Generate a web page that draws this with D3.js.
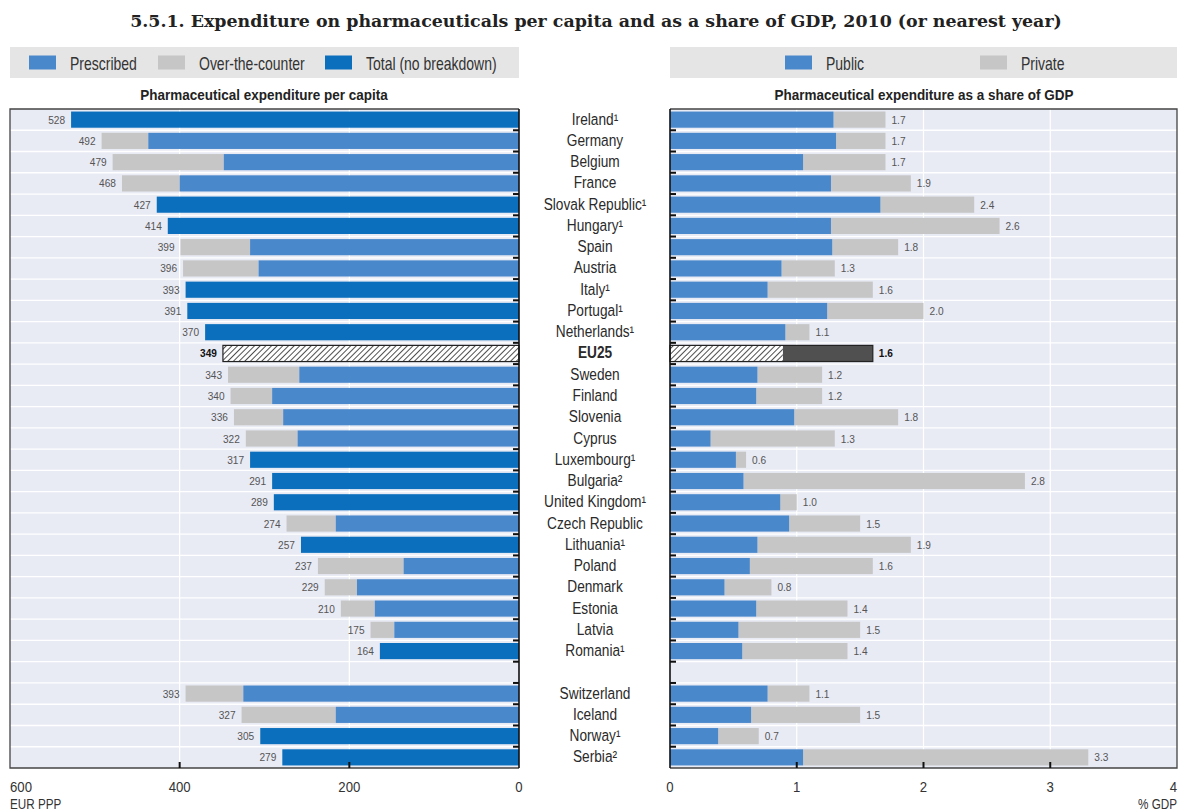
<!DOCTYPE html>
<html>
<head>
<meta charset="utf-8">
<script src="https://cdn.jsdelivr.net/npm/d3@7"></script>
<style>
  body { margin:0; background:#fff; }
  text { font-family: "Liberation Sans", Arial, sans-serif; }
</style>
</head>
<body>
<div id="chart"></div>
<script>
// rows, top to bottom ("" = empty spacer row)
const countries = ["Ireland¹","Germany","Belgium","France","Slovak Republic¹","Hungary¹","Spain","Austria","Italy¹","Portugal¹","Netherlands¹","EU25",
  "Sweden","Finland","Slovenia","Cyprus","Luxembourg¹","Bulgaria²","United Kingdom¹","Czech Republic","Lithuania¹","Poland","Denmark","Estonia","Latvia","Romania¹",
  "","Switzerland","Iceland","Norway¹","Serbia²"];
// per capita, EUR PPP (total), and prescribed part (null = no breakdown)
const perCapita = [528,492,479,468,427,414,399,396,393,391,370,349,343,340,336,322,317,291,289,274,257,237,229,210,175,164,null,393,327,305,279];
const prescribed = [null,437,348,400,null,null,317,307,null,null,null,null,259,291,278,261,null,null,null,216,null,136,191,170,147,null,null,325,216,null,null];
// share of GDP, total and public part
const gdpTotal = [1.7,1.7,1.7,1.9,2.4,2.6,1.8,1.3,1.6,2.0,1.1,1.6,1.2,1.2,1.8,1.3,0.6,2.8,1.0,1.5,1.9,1.6,0.8,1.4,1.5,1.4,null,1.1,1.5,0.7,3.3];
const gdpPublic = [1.29,1.31,1.05,1.27,1.66,1.27,1.28,0.88,0.77,1.24,0.91,0.89,0.69,0.68,0.98,0.32,0.52,0.58,0.87,0.94,0.69,0.63,0.43,0.68,0.54,0.57,null,0.77,0.64,0.38,1.05];
const leftTicks = [600,400,200,0];
const rightTicks = [0,1,2,3,4];

const W=1184, H=812;
const cPres="#4a88cc", cTot="#0b6fbd", cGray="#c6c6c6", cDark="#505050", bg="#e8eaf4";
const euIdx = countries.indexOf("EU25");

const svg = d3.select("#chart").append("svg").attr("width",W).attr("height",H);

// narrow text: scale glyphs horizontally around the anchor point
function txt(g, x, y, s, o){
  o = o || {};
  return g.append("text").attr("transform",`translate(${x},${y}) scale(${o.sx||0.8},1)`)
    .attr("text-anchor",o.anchor||"start").style("font-size",(o.size||14)+"px")
    .style("font-weight",o.weight||"normal").attr("fill",o.fill||"#333").text(s);
}

const defs = svg.append("defs");
const pat = defs.append("pattern").attr("id","hatch").attr("patternUnits","userSpaceOnUse")
  .attr("width",4).attr("height",4).attr("patternTransform","rotate(45)");
pat.append("rect").attr("width",4).attr("height",4).attr("fill","#fff");
pat.append("line").attr("x1",0).attr("y1",0).attr("x2",0).attr("y2",4).attr("stroke","#222").attr("stroke-width",1.6);

// title
svg.append("text").attr("x",596).attr("y",27).attr("text-anchor","middle")
  .style("font-family","'DejaVu Serif', serif").style("font-weight","bold").style("font-size","17.4px")
  .attr("fill","#222").text("5.5.1. Expenditure on pharmaceuticals per capita and as a share of GDP, 2010 (or nearest year)");

const plotTop=109, plotBottom=768;
const y = d3.scaleBand().domain(d3.range(countries.length)).range([plotTop,plotBottom]).paddingInner(0.24).paddingOuter(0.12);
const step = y.step();
const xL = d3.scaleLinear().domain([0,600]).range([519,10]);
const xR = d3.scaleLinear().domain([0,4]).range([670,1177]);

// legends
function legend(x0,x1,items){
  const g = svg.append("g");
  g.append("rect").attr("x",x0).attr("y",47).attr("width",x1-x0).attr("height",31).attr("fill","#e5e5e5");
  items.forEach(it=>{
    g.append("rect").attr("x",it.x).attr("y",55.5).attr("width",27).attr("height",14).attr("fill",it.c);
    txt(g, it.x+41, 70, it.t, {size:17.5, sx:0.8});
  });
}
legend(10,519,[{x:29,c:cPres,t:"Prescribed"},{x:158,c:cGray,t:"Over-the-counter"},{x:325,c:cTot,t:"Total (no breakdown)"}]);
legend(670,1177,[{x:785,c:cPres,t:"Public"},{x:980,c:cGray,t:"Private"}]);

// panel titles
txt(svg, 264, 100, "Pharmaceutical expenditure per capita", {size:14.5, sx:0.93, weight:"bold", anchor:"middle", fill:"#222"});
txt(svg, 924, 100, "Pharmaceutical expenditure as a share of GDP", {size:14.5, sx:0.93, weight:"bold", anchor:"middle", fill:"#222"});

function panelBg(x0,x1,grid,xs){
  const g = svg.append("g");
  g.append("rect").attr("x",Math.min(x0,x1)).attr("y",plotTop).attr("width",Math.abs(x1-x0)).attr("height",plotBottom-plotTop).attr("fill",bg);
  g.selectAll(".hg").data(d3.range(1,countries.length)).join("line")
    .attr("x1",x0).attr("x2",x1).attr("y1",i=>plotTop+i*step).attr("y2",i=>plotTop+i*step)
    .attr("stroke","#fff").attr("stroke-width",1.3);
  g.selectAll(".vg").data(grid).join("line")
    .attr("x1",xs).attr("x2",xs).attr("y1",plotTop).attr("y2",plotBottom).attr("stroke","#fff").attr("stroke-width",1.3);
  return g;
}
panelBg(519,10,[200,400],d=>xL(d));
panelBg(670,1177,[1,2,3],d=>xR(d));

// left bars
const rows = d3.range(countries.length).filter(i=>countries[i]!=="");
const gl = svg.append("g");
rows.forEach(i=>{
  const yy=y(i), h=y.bandwidth(), tot=perCapita[i];
  if(i===euIdx){
    gl.append("rect").attr("x",xL(tot)).attr("y",yy).attr("width",xL(0)-xL(tot)).attr("height",h)
      .attr("fill","url(#hatch)").attr("stroke","#222").attr("stroke-width",1.2);
  } else if(prescribed[i]==null){
    gl.append("rect").attr("x",xL(tot)).attr("y",yy).attr("width",xL(0)-xL(tot)).attr("height",h).attr("fill",cTot);
  } else {
    gl.append("rect").attr("x",xL(tot)).attr("y",yy).attr("width",xL(prescribed[i])-xL(tot)).attr("height",h).attr("fill",cGray);
    gl.append("rect").attr("x",xL(prescribed[i])).attr("y",yy).attr("width",xL(0)-xL(prescribed[i])).attr("height",h).attr("fill",cPres);
  }
  txt(gl, xL(tot)-6, yy+h/2+4, tot, {size:11.5, sx:0.88, anchor:"end",
    weight:i===euIdx?"bold":"normal", fill:i===euIdx?"#111":"#555"});
});

// right bars
const gr = svg.append("g");
rows.forEach(i=>{
  const yy=y(i), h=y.bandwidth(), tot=gdpTotal[i], pub=gdpPublic[i];
  if(i===euIdx){
    gr.append("rect").attr("x",xR(pub)).attr("y",yy).attr("width",xR(tot)-xR(pub)).attr("height",h).attr("fill",cDark);
    gr.append("rect").attr("x",xR(0)).attr("y",yy).attr("width",xR(pub)-xR(0)).attr("height",h).attr("fill","url(#hatch)");
    gr.append("rect").attr("x",xR(0)).attr("y",yy).attr("width",xR(tot)-xR(0)).attr("height",h)
      .attr("fill","none").attr("stroke","#222").attr("stroke-width",1.2);
  } else {
    gr.append("rect").attr("x",xR(pub)).attr("y",yy).attr("width",xR(tot)-xR(pub)).attr("height",h).attr("fill",cGray);
    gr.append("rect").attr("x",xR(0)).attr("y",yy).attr("width",xR(pub)-xR(0)).attr("height",h).attr("fill",cPres);
  }
  txt(gr, xR(tot)+6, yy+h/2+4, d3.format(".1f")(tot), {size:11.5, sx:0.88,
    weight:i===euIdx?"bold":"normal", fill:i===euIdx?"#111":"#555"});
});

// country labels
const gc = svg.append("g");
rows.forEach(i=>{
  txt(gc, 595, y(i)+y.bandwidth()/2+5, countries[i], {size:16.5, sx:0.83, anchor:"middle",
    weight:i===euIdx?"bold":"normal", fill:"#2a2a2a"});
});

// frames and axes
const fr = svg.append("g").attr("fill","none");
fr.append("path").attr("d",`M519,${plotTop}H10V${plotBottom}H519`).attr("stroke","#444").attr("stroke-width",1.3);
fr.append("line").attr("x1",519).attr("x2",519).attr("y1",plotTop).attr("y2",plotBottom).attr("stroke","#111").attr("stroke-width",1.6);
fr.append("path").attr("d",`M670,${plotTop}H1177V${plotBottom}H670`).attr("stroke","#444").attr("stroke-width",1.3);
fr.append("line").attr("x1",670).attr("x2",670).attr("y1",plotTop).attr("y2",plotBottom).attr("stroke","#111").attr("stroke-width",1.6);

// category ticks on zero axes
const bounds = d3.range(1,countries.length).map(i=>plotTop+i*step);
fr.selectAll(".tl").data(bounds).join("line").attr("x1",513).attr("x2",519).attr("y1",d=>d).attr("y2",d=>d).attr("stroke","#111").attr("stroke-width",2);
fr.selectAll(".tr").data(bounds).join("line").attr("x1",670).attr("x2",676).attr("y1",d=>d).attr("y2",d=>d).attr("stroke","#111").attr("stroke-width",2);
// value ticks on bottom
fr.selectAll(".bl").data([200,400]).join("line").attr("x1",d=>xL(d)).attr("x2",d=>xL(d)).attr("y1",plotBottom-6).attr("y2",plotBottom).attr("stroke","#111").attr("stroke-width",2);
fr.selectAll(".br").data([1,2,3]).join("line").attr("x1",d=>xR(d)).attr("x2",d=>xR(d)).attr("y1",plotBottom-6).attr("y2",plotBottom).attr("stroke","#111").attr("stroke-width",2);

// tick labels
const gt = svg.append("g");
leftTicks.forEach(d=>txt(gt, d===600?10:xL(d), 791.5, d, {size:15.5, sx:0.85, anchor:d===600?"start":"middle"}));
txt(gt, 10, 808.5, "EUR PPP", {size:15, sx:0.78});
rightTicks.forEach(d=>txt(gt, d===4?1177:xR(d), 791.5, d, {size:15.5, sx:0.85, anchor:d===4?"end":"middle"}));
txt(gt, 1177, 808.5, "% GDP", {size:15, sx:0.78, anchor:"end"});
</script>
</body>
</html>
